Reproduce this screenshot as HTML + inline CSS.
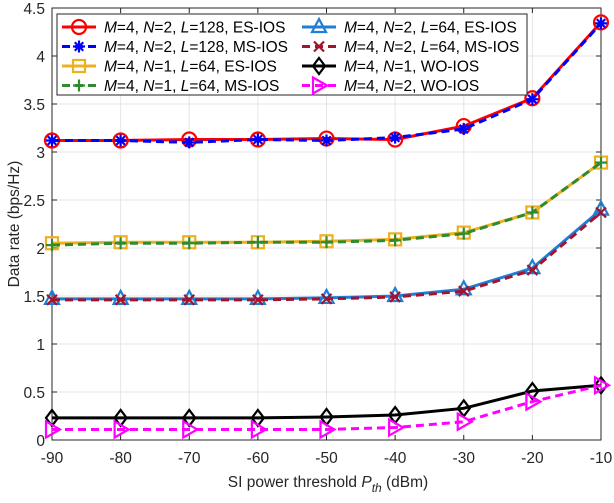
<!DOCTYPE html>
<html><head><meta charset="utf-8"><style>
body{margin:0;background:#fff}
svg{font-family:"Liberation Sans",Arial,sans-serif}
</style></head><body>
<svg id="chart" width="614" height="498" xmlns="http://www.w3.org/2000/svg"></svg>
<script>
const xCats=[-90,-80,-70,-60,-50,-40,-30,-20,-10];
const yTicks=[0,0.5,1,1.5,2,2.5,3,3.5,4,4.5];
const yTickLabels=["0","0.5","1","1.5","2","2.5","3","3.5","4","4.5"];
const sRedES128=[3.12,3.12,3.13,3.13,3.14,3.13,3.27,3.56,4.35];
const sBlueMS128=[3.12,3.12,3.10,3.13,3.12,3.15,3.24,3.55,4.34];
const sYellowES64N1=[2.05,2.06,2.06,2.06,2.07,2.09,2.16,2.37,2.89];
const sGreenMS64N1=[2.03,2.05,2.05,2.06,2.06,2.08,2.15,2.37,2.89];
const sTriES64N2=[1.47,1.47,1.47,1.47,1.48,1.50,1.57,1.79,2.40];
const sXMS64N2=[1.46,1.46,1.46,1.46,1.47,1.49,1.55,1.77,2.37];
const sWON1=[0.23,0.23,0.23,0.23,0.24,0.26,0.33,0.51,0.57];
const sWON2=[0.11,0.11,0.11,0.11,0.11,0.13,0.19,0.40,0.57];

const svg=document.getElementById('chart');
const NS="http://www.w3.org/2000/svg";
const L=52,R=601,T=8,B=440;
const xs=v=>L+(v-(-90))/80*(R-L);
const ys=v=>B-v/4.5*(B-T);
function mk(tag,attrs,parent){const e=document.createElementNS(NS,tag);for(const k in attrs)e.setAttribute(k,attrs[k]);(parent||svg).appendChild(e);return e;}

const grid=mk('g',{});


xCats.forEach(v=>mk('line',{x1:xs(v),x2:xs(v),y1:T,y2:B,stroke:'#e6e6e6','stroke-width':1},grid));
yTicks.forEach(v=>mk('line',{x1:L,x2:R,y1:ys(v),y2:ys(v),stroke:'#e6e6e6','stroke-width':1},grid));

const box=mk('rect',{x:L,y:T,width:R-L,height:B-T,fill:'none',stroke:'#262626','stroke-width':1});



const xt=mk('g',{});


xCats.forEach(v=>{
  mk('line',{x1:xs(v),x2:xs(v),y1:B,y2:B-5,stroke:'#262626'},xt);
  mk('line',{x1:xs(v),x2:xs(v),y1:T,y2:T+5,stroke:'#262626'},xt);
  const t=mk('text',{x:xs(v),y:B+23,'text-anchor':'middle','font-size':15.5,fill:'#262626'},xt);t.textContent=v;
});
const yt=mk('g',{});


yTicks.forEach((v,i)=>{
  mk('line',{x1:L,x2:L+5,y1:ys(v),y2:ys(v),stroke:'#262626'},yt);
  mk('line',{x1:R,x2:R-5,y1:ys(v),y2:ys(v),stroke:'#262626'},yt);
  const t=mk('text',{x:L-7,y:ys(v)+6,'text-anchor':'end','font-size':15.5,fill:'#262626'},yt);t.textContent=yTickLabels[i];
});
const xl=mk('text',{x:328,y:487,'text-anchor':'middle','font-size':15.5,fill:'#262626'});


xl.innerHTML='SI power threshold  <tspan font-style="italic">P</tspan><tspan font-style="italic" font-size="12" dy="5">th</tspan><tspan dy="-5"> (dBm)</tspan>';
const yl=mk('text',{x:0,y:0,transform:'translate(19,224) rotate(-90)','text-anchor':'middle','font-size':15.5,fill:'#262626'});


yl.textContent='Data rate (bps/Hz)';

function marker(g,type,x,y,color){
  const s={fill:'none',stroke:color,'stroke-width':2.2};
  if(type==='o')mk('circle',Object.assign({cx:x,cy:y,r:7},s),g);
  else if(type==='*'){for(let a=0;a<4;a++){const an=a*Math.PI/4;mk('line',Object.assign({x1:x-6*Math.cos(an),y1:y-6*Math.sin(an),x2:x+6*Math.cos(an),y2:y+6*Math.sin(an)},s),g);}}
  else if(type==='s')mk('rect',Object.assign({x:x-6,y:y-6,width:12,height:12},s),g);
  else if(type==='+'){mk('line',Object.assign({x1:x-6,y1:y,x2:x+6,y2:y},s),g);mk('line',Object.assign({x1:x,y1:y-6,x2:x,y2:y+6},s),g);}
  else if(type==='^')mk('polygon',Object.assign({points:`${x},${y-8} ${x-7},${y+5} ${x+7},${y+5}`},s),g);
  else if(type==='x'){mk('line',Object.assign({x1:x-5,y1:y-5,x2:x+5,y2:y+5},s),g);mk('line',Object.assign({x1:x-5,y1:y+5,x2:x+5,y2:y-5},s),g);}
  else if(type==='d')mk('polygon',Object.assign({points:`${x},${y-8} ${x+6},${y} ${x},${y+8} ${x-6},${y}`},s),g);
  else if(type==='>')mk('polygon',Object.assign({points:`${x-6},${y-8} ${x+8},${y} ${x-6},${y+8}`},s),g);
}
const series=[
 {d:sRedES128,c:'#ff0000',m:'o',dash:null,n:'series-m4-n2-l128-es-ios',lab:['4','2','128','ES-IOS'],hasL:true},
 {d:sBlueMS128,c:'#0000ff',m:'*',dash:'8,5',n:'series-m4-n2-l128-ms-ios',lab:['4','2','128','MS-IOS'],hasL:true},
 {d:sYellowES64N1,c:'#edb120',m:'s',dash:null,n:'series-m4-n1-l64-es-ios',lab:['4','1','64','ES-IOS'],hasL:true},
 {d:sGreenMS64N1,c:'#2e8b2e',m:'+',dash:'8,5',n:'series-m4-n1-l64-ms-ios',lab:['4','1','64','MS-IOS'],hasL:true},
 {d:sTriES64N2,c:'#1f7fd4',m:'^',dash:null,n:'series-m4-n2-l64-es-ios',lab:['4','2','64','ES-IOS'],hasL:true},
 {d:sXMS64N2,c:'#a2142f',m:'x',dash:'8,5',n:'series-m4-n2-l64-ms-ios',lab:['4','2','64','MS-IOS'],hasL:true},
 {d:sWON1,c:'#000000',m:'d',dash:null,n:'series-m4-n1-wo-ios',lab:['4','1','','WO-IOS'],hasL:false},
 {d:sWON2,c:'#ff00ff',m:'>',dash:'8,5',n:'series-m4-n2-wo-ios',lab:['4','2','','WO-IOS'],hasL:false}
];
const drawOrder=[4,5,2,3,0,1,6,7];
drawOrder.forEach(i=>{
  const s=series[i];
  const g=mk('g',{});
  
  
  const pts=s.d.map((v,j)=>xs(xCats[j])+','+ys(v)).join(' ');
  const pl={points:pts,fill:'none',stroke:s.c,'stroke-width':3};
  if(s.dash)pl['stroke-dasharray']=s.dash;
  mk('polyline',pl,g);
  s.d.forEach((v,j)=>marker(g,s.m,xs(xCats[j]),ys(v),s.c));
});

const lg=mk('g',{});


mk('rect',{x:57,y:14,width:470,height:81,fill:'#fff',stroke:'#262626','stroke-width':1},lg);
const legPos=[[0,0],[0,1],[0,2],[0,3],[1,0],[1,1],[1,2],[1,3]];
series.forEach((s,i)=>{
  const [c,r]=legPos[i];
  const x0=c?302:62, y=27+r*19.5;
  const e=mk('g',{},lg);
  
  
  const la={x1:x0,x2:x0+34,y1:y,y2:y,stroke:s.c,'stroke-width':3};
  if(s.dash)la['stroke-dasharray']=s.dash;
  mk('line',la,e);
  marker(e,s.m,x0+17,y,s.c);
  const t=mk('text',{x:x0+42,y:y+5.5,'font-size':15.5,fill:'#000'},e);
  let h=`<tspan font-style="italic">M</tspan>=${s.lab[0]}, <tspan font-style="italic">N</tspan>=${s.lab[1]}, `;
  if(s.hasL)h+=`<tspan font-style="italic">L</tspan>=${s.lab[2]}, `;
  h+=s.lab[3];
  t.innerHTML=h;
});
</script>
</body></html>
